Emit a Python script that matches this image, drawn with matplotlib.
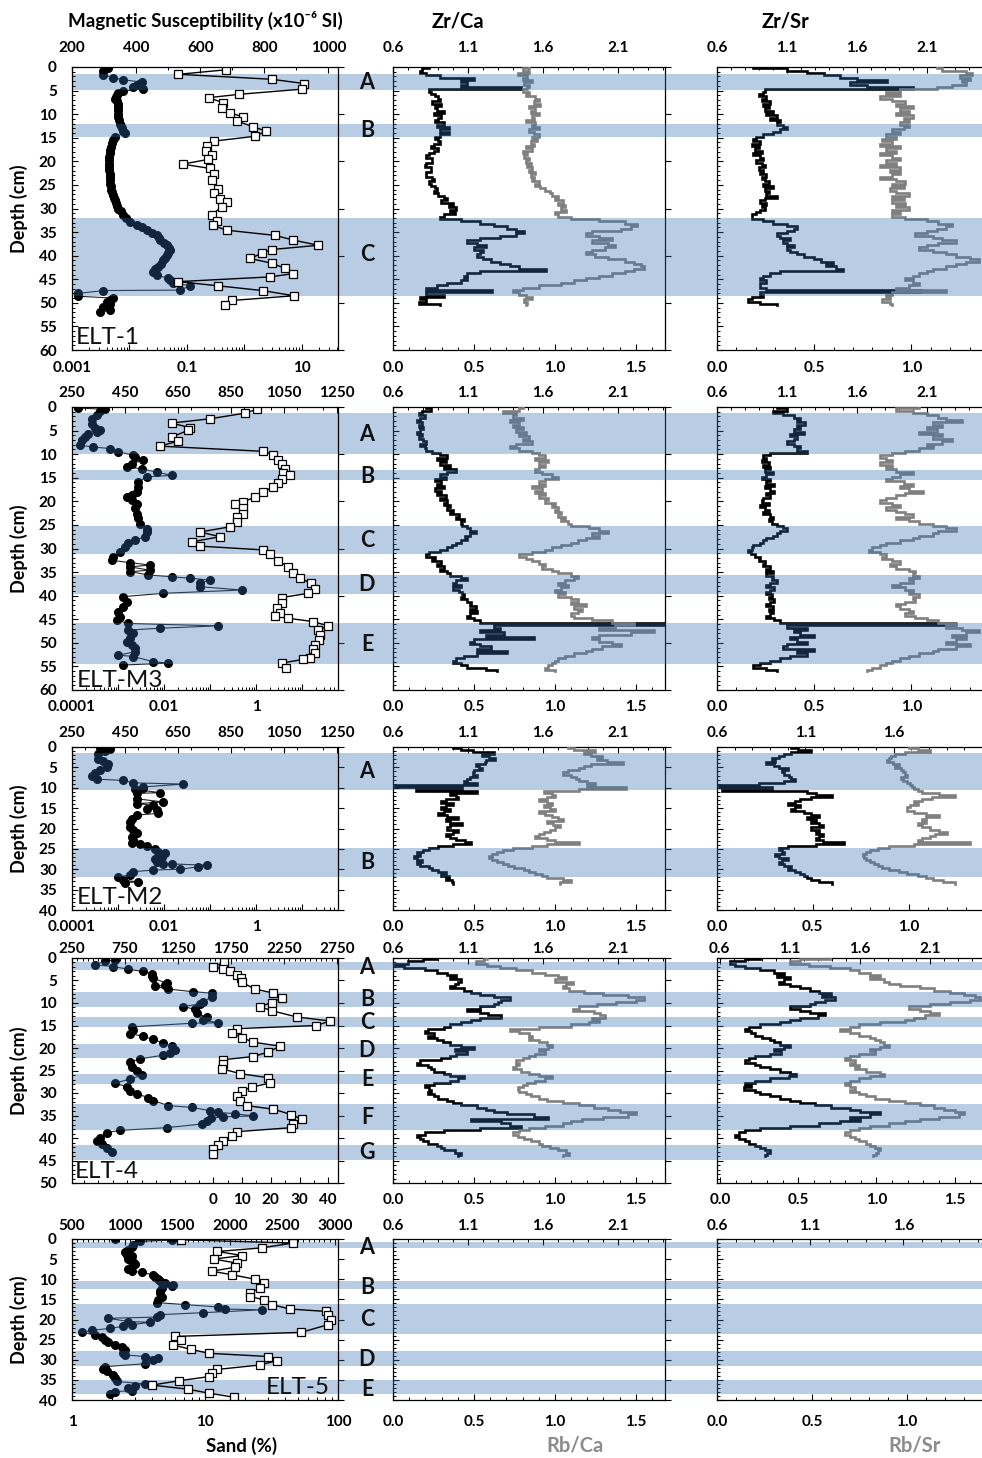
import matplotlib
matplotlib.use('Agg')
import matplotlib.pyplot as plt
import matplotlib.transforms as mtransforms
from matplotlib.patches import Rectangle
from matplotlib.ticker import MultipleLocator, LogLocator, NullFormatter, NullLocator
import numpy as np

plt.rcParams['font.family'] = ['Lato', 'DejaVu Sans']
plt.rcParams['font.weight'] = 'bold'
plt.rcParams['axes.linewidth'] = 0.9
plt.rcParams['xtick.direction'] = 'in'
plt.rcParams['ytick.direction'] = 'in'

############################################
# Data
# magnetic susceptibility (filled circles) : depth (cm), x10-6 SI
elt1_ms_depth = [0.2, 0.4, 0.8, 1.6, 2.3, 2.7, 3.2, 3.6, 3.9, 4.2, 4.6, 5.1, 5.5, 6.0, 6.4, 6.7, 7.2, 7.8, 8.5, 9.2,
                 9.9, 10.6, 11.3, 12.0, 12.5, 13.0, 13.5, 14.0, 14.8, 15.5, 16.2, 17.0, 17.6, 18.3, 19.0, 19.8,
                 20.5, 21.2, 21.9, 22.6, 23.3, 24.0, 24.7, 25.3, 26.0, 26.5, 27.1, 27.8, 28.2, 28.8, 29.4, 30.0,
                 30.6, 31.4, 32.1, 32.8, 33.5, 34.0, 34.6, 35.1, 35.6, 36.2, 36.7, 37.3, 37.8, 38.3, 38.8, 39.4,
                 39.9, 40.5, 41.0, 41.7, 42.3, 42.9, 43.4, 44.1, 44.8, 45.2, 45.7, 46.4, 47.3, 47.4, 48.0, 48.6,
                 49.0, 49.5, 49.8, 50.2, 50.8, 51.5, 51.9]
elt1_ms = [313, 303, 298, 298, 329, 360, 417, 410, 402, 391, 423, 360, 345, 340, 336, 334, 340, 345, 345, 343,
           345, 345, 348, 350, 352, 355, 360, 365, 334, 328, 324, 321, 320, 319, 317, 315,
           314, 315, 317, 319, 318, 319, 319, 321, 322, 324, 327, 331, 334, 338, 341, 345,
           352, 360, 370, 381, 402, 418, 433, 450, 464, 470, 475, 487, 495, 502, 506, 500,
           495, 490, 485, 477, 469, 460, 454, 464, 500, 505, 516, 568, 537, 298, 220, 220,
           329, 318, 308, 319, 298, 319, 288]
elt1_sand_depth = [0.6, 1.55, 2.6, 3.5, 4.7, 5.8, 6.5, 7.6, 8.6, 9.7, 10.6, 11.4, 12.7, 13.6, 14.7, 15.7, 16.8,
                   17.8, 18.7, 19.6, 20.6, 21.5, 22.7, 24.0, 25.8, 26.8, 27.9, 28.6, 29.6, 31.4, 32.6, 33.6,
                   34.6, 35.7, 36.7, 37.8, 38.7, 39.5, 40.6, 41.6, 42.7, 43.8, 44.5, 45.5, 46.4, 47.4, 48.5,
                   49.5, 50.5]
elt1_sand = [0.47, 0.071, 2.97, 10.8, 9.9, 0.79, 0.24, 0.43, 0.40, 0.56, 0.95, 0.73, 1.43, 2.4, 1.5, 0.30, 0.22,
             0.21, 0.27, 0.23, 0.084, 0.25, 0.29, 0.27, 0.35, 0.29, 0.37, 0.49, 0.40, 0.27, 0.33, 0.28,
             0.49, 3.4, 7.1, 19.2, 2.97, 2.0, 1.25, 2.97, 5.1, 7.1, 2.8, 0.071, 0.35, 2.07, 7.3,
             0.60, 0.46]

elt_m3_ms_depth = [0.2, 0.5, 0.8, 1.6, 2.5, 3.5, 4.4, 4.8, 5.3, 5.8, 6.4, 7.1, 8.1, 8.5, 8.8, 9.5, 10.2, 10.7,
                   11.3, 12.0, 12.7, 13.1, 13.8, 14.5, 14.8, 15.9, 16.9, 18.0, 18.7, 19.1, 19.8, 20.5, 21.5,
                   22.6, 23.6, 24.7, 25.8, 26.5, 27.5, 28.2, 28.9, 29.6, 30.7, 31.8, 32.5, 33.0, 33.5, 33.9,
                   34.6, 34.9, 35.6, 36.0, 36.3, 36.7, 37.4, 38.1, 38.8, 39.5, 40.2, 41.3, 42.3, 43.4, 44.5,
                   45.2, 45.9, 46.4, 46.9, 47.3, 48.0, 49.0, 49.8, 50.5, 51.2, 51.9, 52.6, 52.9, 54.0, 54.3, 54.7]
elt_m3_ms = [274, 375, 356, 343, 324, 324, 337, 356, 343, 312, 299, 287, 280, 331, 394, 425, 482, 488,
             519, 475, 456, 513, 570, 626, 532, 500, 500, 494, 475, 456, 475, 494, 488,
             494, 500, 507, 532, 532, 526, 488, 463, 450, 431, 406, 400, 469, 545, 469,
             545, 469, 538, 626, 696, 771, 733, 733, 891, 595, 444, 456, 444, 425, 431,
             419, 463, 803, 582, 463, 482, 469, 456, 475, 488, 488, 425, 482, 557, 614, 444]
elt_m3_sand_depth = [0.5, 1.3, 2.5, 3.4, 4.4, 4.9, 6.4, 7.2, 8.3, 9.4, 10.2, 11.3, 12.1, 13.1, 14.0, 14.5, 15.2,
                     16.1, 16.9, 18.0, 19.1, 20.1, 20.5, 21.5, 22.6, 23.4, 24.3, 25.4, 26.5, 27.5, 28.6, 29.5,
                     30.3, 31.1, 32.6, 33.9, 35.3, 36.3, 37.4, 38.5, 39.5, 40.4, 41.6, 42.7, 43.6, 44.3, 44.8,
                     45.5, 46.4, 47.3, 48.3, 49.4, 50.5, 51.4, 52.2, 53.3, 53.5, 54.3, 55.4]
elt_m3_sand = [1.03, 0.58, 0.10, 0.0147, 0.037, 0.034, 0.0147, 0.0205, 0.0082, 1.44, 2.38, 3.06, 3.6, 4.3, 3.9,
               5.5, 3.6, 3.06, 2.38, 1.44, 0.95, 0.53, 0.35, 0.53, 0.53, 0.38, 0.38, 0.27, 0.061, 0.165, 0.04,
               0.061, 1.44, 2.0, 3.06, 5.0, 6.5, 9.1, 16, 19.2, 13.7, 3.6, 3.6, 2.8, 3.3, 2.6, 5.0,
               17.6, 37, 22.6, 25, 24, 19.2, 17.6, 19.2, 14.9, 10.7, 3.6, 4.6]

elt_m2_ms_depth = [0.2, 0.4, 1.0, 1.8, 2.9, 3.4, 4.1, 4.9, 5.7, 6.5, 7.2, 7.9, 8.2, 8.8, 9.1, 9.8, 10.0, 10.4,
                   11.2, 11.4, 12.7, 13.5, 13.9, 14.3, 15.1, 15.5, 16.3, 16.7, 17.6, 18.4, 19.6, 20.4, 21.2,
                   22.0, 22.9, 23.5, 23.8, 24.3, 25.1, 25.7, 26.1, 26.9, 27.6, 28.2, 28.6, 28.7, 29.0, 29.4,
                   30.0, 30.2, 30.6, 31.3, 32.0, 32.7, 33.1, 33.3]
elt_m2_ms = [356, 394, 375, 349, 349, 368, 387, 381, 356, 337, 324, 343, 444, 482, 670, 519, 519, 488,
             582, 494, 494, 595, 494, 557, 532, 570, 576, 494, 475, 469, 469, 482, 494,
             475, 482, 475, 507, 532, 563, 576, 601, 589, 563, 570, 595, 626, 759, 727,
             658, 557, 482, 469, 425, 444, 500, 450]

elt4_ms_depth = [0.5, 0.7, 1.5, 1.9, 2.5, 3.0, 3.5, 4.1, 4.5, 5.6, 6.0, 6.3, 6.9, 7.5, 7.8, 8.6, 9.7, 10.2,
                 10.8, 11.4, 12.3, 13.1, 13.8, 14.4, 14.5, 15.3, 16.0, 16.8, 17.4, 18.1, 18.9, 19.6, 20.4,
                 21.1, 21.6, 22.4, 23.1, 24.3, 25.0, 26.1, 26.9, 27.8, 28.6, 29.5, 30.2, 31.0, 31.7, 32.8,
                 33.2, 33.9, 34.3, 34.6, 35.1, 35.3, 35.6, 36.2, 36.9, 37.7, 38.3, 38.8, 39.9, 40.7, 41.4,
                 42.2, 43.1]
elt4_ms = [656, 561, 467, 640, 781, 923, 1002, 1002, 1017, 1143, 1127, 1033, 1159, 1395, 1568, 1568, 1489, 1458,
           1300, 1410, 1426, 1521, 1489, 1631, 1379, 813, 829, 797, 923, 1017, 1112, 1190, 1222,
           1175, 1112, 892, 797, 813, 860, 907, 797, 656, 766, 797, 860, 970, 1017, 1159,
           1379, 1549, 1628, 1788, 1961, 1675, 1565, 1521, 1474, 1143, 703, 577, 514, 483, 530,
           577, 624]
elt4_sand_depth = [0.97, 1.9, 2.5, 3.0, 3.7, 4.5, 5.4, 6.9, 7.8, 8.9, 9.9, 10.8, 11.7, 13.1, 14.0, 15.0, 15.7,
                   16.6, 17.7, 18.7, 19.6, 20.9, 21.9, 22.6, 23.6, 24.6, 25.7, 26.6, 27.8, 28.7, 29.6, 30.6,
                   31.7, 32.8, 33.6, 34.8, 35.8, 36.8, 37.7, 38.6, 39.5, 40.7, 41.6, 42.5, 43.5]
elt4_sand = [3.7, 0, 3.5, 5.8, 8.1, 9.5, 9.9, 14.5, 20.9, 23.8, 20.3, 16.2, 20.3, 29, 40.6, 35.9, 8.1,
             6.4, 9.9, 13.9, 23.2, 19.1, 13.9, 3.5, 3.5, 2.9, 9.3, 19.1, 19.7, 13.3, 9.9, 8.1,
             9.3, 11.6, 20.9, 27.2, 30.7, 27.8, 27.2, 8.1, 6.4, 3.5, 1.7, 0, 0]

elt5_ms_depth = [0.0, 0.3, 0.6, 1.4, 2.0, 2.7, 3.3, 3.9, 4.3, 5.0, 5.6, 6.1, 6.8, 7.5, 8.0, 8.3, 8.9, 9.5, 10.0,
                 10.5, 11.0, 11.4, 11.8, 12.2, 12.8, 13.4, 14.3, 15.1, 15.8, 16.3, 16.9, 17.4, 17.6, 18.3,
                 18.8, 19.4, 19.7, 20.5, 20.7, 21.3, 21.7, 22.2, 22.7, 23.2, 23.8, 24.4, 25.1, 25.7, 26.3,
                 26.9, 27.6, 28.2, 28.8, 29.2, 29.6, 30.0, 31.0, 31.7, 32.4, 32.9, 33.8, 34.6, 35.4, 36.0,
                 36.5, 37.1, 37.7, 37.9, 38.5]
elt5_ms = [909, 1448, 1147, 1083, 1067, 1036, 1004, 1020, 1067, 1036, 1083, 1099, 1067, 1036, 1067, 1163, 1273,
           1289, 1321, 1337, 1384, 1464, 1448, 1353, 1337, 1337, 1353, 1321, 1305, 1575, 1892, 1955, 2304, 1749,
           1337, 1305, 846, 1036, 1242, 1067, 988, 861, 687, 592, 719, 782, 814, 846, 909,
           972, 1004, 988, 1004, 1194, 1321, 1274, 1194, 814, 798, 830, 893, 909, 925, 1194,
           1099, 1036, 1067, 909, 861]
elt5_sand_depth = [0.2, 1.0, 2.2, 3.1, 4.1, 5.0, 6.0, 7.0, 8.0, 8.9, 10.0, 11.0, 12.2, 13.3, 14.3, 15.1, 16.3,
                   17.4, 18.0, 18.8, 20.1, 21.3, 23.2, 24.2, 25.2, 26.3, 27.4, 28.4, 29.2, 30.2, 31.3, 32.4,
                   33.4, 34.2, 35.2, 36.3, 37.3, 38.3, 39.3]
elt5_sand = [6.6, 46, 26.8, 12.4, 19, 11.7, 17.4, 16.9, 11.3, 16, 23.9, 28, 26, 21.9, 21.9, 27.6, 31.8,
             43.6, 81.8, 84.2, 88.2, 84, 52.6, 6.0, 6.6, 5.7, 7.8, 10.7, 30, 34.7, 26, 12.4,
             11.3, 10.7, 6.4, 4.0, 7.4, 10.7, 16.5]

# XRF ratios, one value every 0.5 cm from the core top
XRF_STEP = 0.5
elt1_zrca = [0.84, 0.79, 0.78, 0.82, 0.91, 1.14, 1.05, 1.09, 1.05, 1.45,
             0.84, 0.85, 0.88, 0.90, 0.91, 0.86, 0.92, 0.88, 0.89, 0.94,
             0.87, 0.92, 0.90, 0.88, 0.94, 0.89, 0.97, 0.91, 0.97, 0.91,
             0.88, 0.90, 0.91, 0.87, 0.85, 0.90, 0.87, 0.84, 0.82, 0.86,
             0.86, 0.82, 0.81, 0.85, 0.85, 0.82, 0.82, 0.86, 0.87, 0.84,
             0.85, 0.88, 0.89, 0.87, 0.90, 0.94, 0.96, 0.92, 1.00, 0.97,
             1.02, 0.98, 1.01, 0.94, 0.91, 1.05, 1.18, 1.27, 1.36, 1.42,
             1.47, 1.42, 1.31, 1.18, 1.09, 1.16, 1.22, 1.14, 1.20, 1.18,
             1.16, 1.20, 1.25, 1.31, 1.38, 1.44, 1.62, 1.18, 1.09, 1.07,
             1.09, 1.05, 0.96, 0.89, 0.82, 1.26, 0.82, 0.94, 0.78, 0.82,
             0.77, 0.91]
elt1_rbca = [0.84, 0.80, 0.84, 0.77, 0.83, 0.80, 0.86, 0.81, 0.84, 0.83,
             0.80, 0.84, 0.82, 0.88, 0.90, 0.87, 0.91, 0.84, 0.88, 0.85,
             0.90, 0.86, 0.87, 0.82, 0.88, 0.86, 0.90, 0.84, 0.87, 0.90,
             0.86, 0.89, 0.85, 0.87, 0.82, 0.86, 0.80, 0.83, 0.81, 0.84,
             0.82, 0.85, 0.83, 0.86, 0.84, 0.88, 0.85, 0.87, 0.86, 0.90,
             0.88, 0.91, 0.94, 0.97, 0.98, 1.02, 1.00, 1.05, 1.02, 1.06,
             1.04, 1.07, 1.00, 1.02, 1.10, 1.27, 1.43, 1.51, 1.47, 1.41,
             1.23, 1.19, 1.27, 1.35, 1.23, 1.33, 1.37, 1.31, 1.23, 1.19,
             1.25, 1.33, 1.43, 1.49, 1.53, 1.55, 1.49, 1.43, 1.35, 1.27,
             1.19, 1.12, 1.04, 0.90, 0.80, 0.74, 0.78, 0.82, 0.86, 0.81,
             0.83, 0.82]
elt1_zrsr = [0.86, 1.10, 1.24, 1.36, 1.48, 1.60, 1.81, 1.55, 1.67, 2.00,
             0.94, 0.93, 0.90, 0.95, 0.92, 0.98, 0.93, 0.97, 0.94, 1.00,
             0.95, 1.03, 0.98, 1.05, 1.03, 1.07, 1.10, 1.05, 1.00, 0.93,
             0.88, 0.86, 0.91, 0.85, 0.90, 0.87, 0.92, 0.86, 0.91, 0.93,
             0.88, 0.92, 0.94, 0.90, 0.93, 0.91, 0.95, 0.92, 0.94, 0.97,
             0.93, 1.00, 0.94, 0.97, 0.95, 1.03, 0.94, 0.91, 0.95, 0.92,
             0.94, 0.91, 0.88, 0.85, 0.85, 0.93, 1.00, 1.10, 1.17, 1.15,
             1.10, 1.03, 1.05, 1.12, 1.07, 1.10, 1.15, 1.10, 1.12, 1.17,
             1.22, 1.29, 1.34, 1.43, 1.38, 1.45, 1.50, 1.05, 0.98, 0.93,
             0.91, 0.95, 0.91, 0.91, 0.95, 2.05, 0.91, 0.93, 0.85, 0.82,
             0.91, 1.03]
elt1_rbsr = [1.13, 1.16, 1.28, 1.31, 1.25, 1.30, 1.26, 1.28, 1.21, 1.13,
             0.94, 0.87, 0.94, 0.84, 0.90, 0.97, 0.92, 1.01, 0.94, 0.99,
             0.92, 1.01, 0.96, 0.99, 0.94, 0.99, 0.96, 0.90, 0.94, 0.87,
             0.92, 0.85, 0.90, 0.84, 0.94, 0.87, 0.92, 0.84, 0.90, 0.94,
             0.87, 0.92, 0.84, 0.94, 0.89, 0.94, 0.90, 0.84, 0.92, 0.97,
             0.90, 0.96, 0.89, 0.92, 0.99, 0.90, 0.96, 0.90, 0.97, 0.92,
             0.99, 0.90, 0.94, 0.90, 0.97, 1.08, 1.14, 1.21, 1.18, 1.13,
             1.08, 1.02, 1.11, 1.16, 1.23, 1.14, 1.08, 1.04, 1.11, 1.18,
             1.23, 1.30, 1.35, 1.28, 1.23, 1.18, 1.11, 1.08, 1.04, 1.01,
             0.97, 1.01, 1.04, 0.99, 0.92, 1.18, 0.90, 0.87, 0.89, 0.85,
             0.89, 0.90]

elt_m3_zrca = [0.82, 0.85, 0.79, 0.77, 0.81, 0.78, 0.76, 0.79, 0.77, 0.80,
               0.78, 0.76, 0.79, 0.77, 0.80, 0.82, 0.78, 0.81, 0.82, 0.86,
               0.91, 0.96, 0.89, 0.95, 0.91, 0.98, 0.94, 1.02, 0.96, 0.91,
               0.95, 0.88, 0.92, 0.89, 0.94, 0.88, 0.92, 0.89, 0.95, 0.91,
               0.96, 0.94, 0.98, 0.96, 1.00, 0.98, 1.04, 1.02, 1.07, 1.05,
               1.06, 1.09, 1.11, 1.15, 1.11, 1.08, 1.09, 1.05, 1.02, 0.99,
               0.96, 0.91, 0.84, 0.82, 0.88, 0.86, 0.92, 0.89, 0.94, 0.91,
               0.96, 0.98, 1.05, 1.09, 1.02, 1.00, 1.05, 1.00, 1.04, 1.06,
               1.07, 1.05, 1.09, 1.12, 1.11, 1.15, 1.11, 1.16, 1.11, 1.09,
               1.14, 1.18, 2.41, 1.27, 1.31, 1.18, 1.34, 1.22, 1.54, 1.14,
               1.11, 1.18, 1.25, 1.16, 1.36, 1.16, 1.07, 1.02, 1.00, 1.05,
               1.09, 1.22, 1.29]
elt_m3_rbca = [0.80, 0.78, 0.68, 0.76, 0.74, 0.80, 0.72, 0.78, 0.74, 0.80,
               0.76, 0.82, 0.78, 0.84, 0.80, 0.86, 0.76, 0.72, 0.78, 0.86,
               0.90, 0.94, 0.88, 0.96, 0.90, 0.94, 0.90, 0.88, 0.92, 0.98,
               1.02, 0.94, 0.90, 0.94, 0.86, 0.92, 0.88, 0.94, 0.90, 0.96,
               0.94, 1.00, 0.98, 1.02, 1.00, 1.04, 1.02, 1.06, 1.04, 1.08,
               1.10, 1.21, 1.27, 1.33, 1.23, 1.27, 1.19, 1.14, 1.10, 1.04,
               0.98, 0.94, 0.86, 0.78, 0.82, 0.86, 0.90, 0.94, 0.92, 0.98,
               1.02, 1.10, 1.14, 1.12, 1.06, 1.02, 1.08, 1.04, 1.00, 1.06,
               1.02, 1.10, 1.14, 1.10, 1.19, 1.12, 1.17, 1.14, 1.10, 1.12,
               1.23, 1.35, 1.49, 1.37, 1.27, 1.61, 1.47, 1.27, 1.23, 1.27,
               1.35, 1.41, 1.29, 1.23, 1.19, 1.12, 1.06, 1.02, 1.00, 0.98,
               0.96, 0.94, 1.00]
elt_m3_zrsr = [1.03, 1.10, 1.00, 1.07, 1.15, 1.19, 1.17, 1.23, 1.17, 1.19,
               1.15, 1.22, 1.12, 1.17, 1.15, 1.10, 1.15, 1.19, 1.17, 1.24,
               0.98, 0.93, 0.95, 0.92, 0.97, 0.93, 0.98, 0.94, 1.00, 0.95,
               0.92, 0.98, 0.95, 1.01, 0.94, 0.98, 1.01, 0.95, 0.98, 0.93,
               0.92, 0.97, 0.91, 0.94, 0.97, 0.93, 0.98, 1.00, 0.97, 0.99,
               1.03, 1.07, 1.10, 1.05, 1.03, 1.00, 0.95, 0.93, 0.91, 0.86,
               0.85, 0.82, 0.84, 0.87, 0.91, 0.90, 0.94, 0.93, 0.98, 0.95,
               1.00, 0.95, 1.00, 0.99, 1.03, 0.98, 0.95, 1.01, 0.98, 0.95,
               0.99, 0.97, 1.01, 0.98, 0.95, 1.00, 0.97, 1.00, 0.98, 0.95,
               1.01, 1.05, 2.30, 1.10, 1.24, 1.15, 1.19, 1.29, 1.12, 1.17,
               1.24, 1.10, 1.07, 1.29, 1.17, 1.24, 1.12, 1.05, 0.98, 0.91,
               0.86, 0.95, 1.03]
elt_m3_rbsr = [1.04, 0.92, 1.01, 1.08, 1.14, 1.18, 1.26, 1.11, 1.16, 1.08,
               1.13, 1.04, 1.16, 1.11, 1.21, 1.16, 1.08, 1.11, 1.04, 0.97,
               0.90, 0.84, 0.87, 0.90, 0.84, 0.90, 0.87, 0.92, 1.01, 0.94,
               0.90, 0.87, 0.96, 1.01, 0.94, 0.99, 1.06, 0.97, 0.92, 0.87,
               0.84, 0.90, 0.94, 0.87, 0.92, 0.97, 1.01, 0.92, 0.99, 1.04,
               1.11, 1.18, 1.23, 1.14, 1.11, 1.04, 1.01, 0.94, 0.87, 0.84,
               0.80, 0.78, 0.84, 0.87, 0.85, 0.90, 0.94, 0.89, 0.92, 0.99,
               1.02, 1.01, 1.04, 0.99, 1.01, 0.94, 0.90, 0.97, 1.01, 0.99,
               1.04, 1.01, 1.02, 0.97, 0.92, 0.94, 0.99, 1.01, 0.97, 1.02,
               1.08, 1.14, 1.23, 1.18, 1.26, 1.35, 1.28, 1.21, 1.28, 1.23,
               1.18, 1.30, 1.23, 1.14, 1.11, 1.04, 0.99, 0.94, 0.90, 0.87,
               0.84, 0.80, 0.77]

elt_m2_zrca = [1.00, 1.05, 1.13, 1.27, 1.19, 1.24, 1.28, 1.22, 1.21, 1.15,
               1.17, 1.19, 1.14, 1.13, 1.16, 1.11, 1.09, 1.07, 1.16, 0.61,
               1.06, 0.75, 1.16, 0.98, 1.02, 1.03, 0.95, 0.92, 1.00, 0.95,
               0.92, 0.98, 0.94, 0.90, 0.96, 1.03, 0.95, 0.98, 1.06, 0.98,
               0.96, 1.03, 1.00, 0.95, 0.98, 1.02, 1.08, 1.12, 1.00, 0.90,
               0.84, 0.80, 0.76, 0.78, 0.74, 0.76, 0.79, 0.76, 0.78, 0.84,
               0.86, 0.90, 0.95, 0.92, 0.97, 0.95, 0.99, 1.00]
elt_m2_rbca = [1.08, 1.12, 1.25, 1.18, 1.22, 1.29, 1.26, 1.32, 1.42, 1.22,
               1.18, 1.15, 1.08, 1.05, 1.10, 1.13, 1.15, 1.20, 1.25, 1.20,
               1.44, 1.15, 0.93, 0.98, 1.00, 0.95, 0.90, 0.95, 0.98, 0.93,
               0.97, 1.00, 0.90, 0.94, 0.98, 1.02, 1.05, 0.95, 0.99, 1.03,
               1.00, 0.97, 0.93, 0.90, 0.88, 0.95, 1.00, 1.15, 0.95, 0.86,
               0.74, 0.68, 0.64, 0.61, 0.59, 0.61, 0.64, 0.68, 0.71, 0.75,
               0.81, 0.84, 0.88, 0.92, 0.95, 1.05, 1.10, 1.03]
elt_m2_zrsr = [1.02, 1.06, 1.13, 1.02, 0.98, 0.95, 0.91, 0.93, 0.88, 0.92,
               0.95, 1.00, 0.97, 0.98, 1.01, 1.02, 1.04, 0.98, 0.84, 0.61,
               0.91, 0.63, 1.11, 1.16, 1.25, 1.13, 1.07, 1.04, 1.00, 1.07,
               1.04, 1.02, 1.09, 1.13, 1.18, 1.11, 1.16, 1.13, 1.18, 1.20,
               1.13, 1.18, 1.16, 1.20, 1.18, 1.16, 1.20, 1.32, 1.16, 1.00,
               0.95, 0.97, 0.98, 0.93, 0.95, 1.00, 0.97, 0.95, 0.98, 1.02,
               1.00, 1.04, 1.07, 1.09, 1.11, 1.13, 1.18, 1.25]
elt_m2_rbsr = [1.00, 1.05, 1.11, 0.98, 0.93, 0.91, 0.90, 0.89, 0.92, 0.95,
               0.93, 0.96, 0.97, 0.98, 0.99, 0.96, 0.97, 0.99, 1.01, 1.02,
               1.03, 1.05, 1.07, 1.16, 1.24, 1.12, 1.07, 1.03, 1.05, 1.01,
               0.99, 0.99, 1.03, 1.09, 1.16, 1.09, 1.07, 1.09, 1.05, 1.07,
               1.11, 1.16, 1.20, 1.14, 1.11, 1.07, 1.05, 1.32, 1.03, 0.90,
               0.84, 0.80, 0.78, 0.76, 0.77, 0.78, 0.80, 0.82, 0.84, 0.86,
               0.90, 0.95, 0.99, 1.05, 1.09, 1.13, 1.18, 1.24]

elt4_zrca = [0.89, 0.80, 0.70, 0.61, 0.67, 0.81, 0.89, 0.96, 1.02, 0.98,
             1.05, 1.03, 1.01, 0.98, 1.07, 1.12, 1.18, 1.27, 1.38, 1.32,
             1.30, 1.27, 1.18, 1.09, 1.18, 1.23, 1.32, 1.18, 1.12, 1.05,
             0.98, 0.94, 0.83, 0.81, 0.87, 0.83, 0.89, 0.93, 0.98, 1.05,
             1.14, 1.01, 1.09, 1.02, 0.98, 0.92, 0.78, 0.76, 0.83, 0.85,
             0.87, 0.94, 0.98, 1.07, 1.03, 0.98, 0.87, 0.81, 0.84, 0.85,
             0.83, 0.87, 0.90, 0.96, 1.00, 1.05, 1.16, 1.22, 1.27, 1.36,
             1.54, 1.63, 1.12, 1.32, 1.38, 1.45, 1.18, 0.94, 0.81, 0.76,
             0.78, 0.80, 0.83, 0.89, 0.92, 0.94, 1.01, 1.05, 1.03]
elt4_rbca = [0.58, 0.56, 0.51, 0.58, 0.66, 0.76, 0.86, 0.94, 1.02, 1.07,
             1.00, 1.11, 1.07, 1.05, 1.09, 1.18, 1.30, 1.45, 1.55, 1.50,
             1.38, 1.26, 1.15, 1.11, 1.24, 1.28, 1.31, 1.23, 1.27, 1.21,
             1.10, 0.90, 0.72, 0.78, 0.84, 0.86, 0.84, 0.90, 0.95, 0.98,
             0.96, 0.90, 0.94, 0.88, 0.84, 0.80, 0.76, 0.78, 0.76, 0.74,
             0.79, 0.84, 0.90, 0.98, 0.94, 0.88, 0.83, 0.80, 0.77, 0.78,
             0.82, 0.85, 0.90, 0.95, 1.05, 1.15, 1.24, 1.33, 1.40, 1.50,
             1.45, 1.30, 1.17, 1.10, 1.05, 0.94, 0.84, 0.78, 0.74, 0.77,
             0.81, 0.85, 0.90, 0.92, 0.97, 1.02, 1.07, 1.09, 1.05]
elt4_zrsr = [0.89, 0.78, 0.67, 0.71, 0.78, 0.89, 0.99, 1.06, 1.01, 1.10,
             1.06, 1.02, 1.10, 1.17, 1.24, 1.31, 1.39, 1.33, 1.42, 1.35,
             1.28, 1.24, 1.10, 1.17, 1.24, 1.35, 1.30, 1.17, 1.10, 1.03,
             0.89, 0.81, 0.78, 0.82, 0.85, 0.90, 0.96, 0.99, 1.03, 1.10,
             1.06, 0.99, 1.04, 0.96, 0.85, 0.81, 0.78, 0.85, 0.89, 0.96,
             1.03, 1.10, 1.14, 1.09, 0.96, 0.85, 0.78, 0.82, 0.77, 0.85,
             0.89, 0.96, 1.03, 1.10, 1.17, 1.28, 1.39, 1.53, 1.60, 1.74,
             1.67, 1.53, 1.60, 1.46, 1.31, 1.10, 0.89, 0.78, 0.74, 0.71,
             0.74, 0.78, 0.81, 0.85, 0.89, 0.92, 0.96, 0.94, 0.92]
elt4_rbsr = [0.70, 0.51, 0.45, 0.57, 0.70, 0.83, 0.89, 0.96, 1.02, 0.96,
             1.05, 1.08, 1.15, 1.28, 1.37, 1.47, 1.56, 1.63, 1.66, 1.60,
             1.47, 1.34, 1.21, 1.28, 1.34, 1.40, 1.31, 1.24, 1.18, 1.02,
             0.89, 0.83, 0.77, 0.83, 0.89, 0.96, 0.99, 1.02, 1.05, 1.08,
             1.02, 0.96, 0.99, 0.89, 0.83, 0.80, 0.86, 0.83, 0.89, 0.86,
             0.93, 1.02, 1.05, 0.96, 0.89, 0.83, 0.80, 0.83, 0.86, 0.83,
             0.89, 0.93, 0.99, 1.08, 1.18, 1.28, 1.37, 1.43, 1.50, 1.56,
             1.53, 1.40, 1.28, 1.18, 1.08, 0.96, 0.89, 0.83, 0.80, 0.83,
             0.86, 0.89, 0.93, 0.96, 0.99, 1.02, 1.01, 1.00, 0.98]

# shaded intervals (depth top, depth bottom) and their letters
elt1_bands = [(1.4, 4.9), (12.1, 14.8), (32.1, 48.6)]
elt_m3_bands = [(1.3, 9.9), (13.4, 15.4), (25.3, 31.1), (35.6, 39.7), (45.7, 54.5)]
elt_m2_bands = [(1.5, 10.6), (24.8, 31.8)]
elt4_bands = [(1.0, 2.6), (7.5, 11.0), (13.1, 15.3), (19.0, 22.2), (25.7, 28.1), (32.5, 38.3), (41.6, 45.0)]
elt5_bands = [(0.8, 2.2), (10.4, 12.4), (16.1, 23.6), (27.8, 31.5), (35.0, 38.5)]
elt1_letters = [('A', 3.2), ('B', 13.4), ('C', 39.8)]
elt_m3_letters = [('A', 5.9), ('B', 14.8), ('C', 28.2), ('D', 37.7), ('E', 50.4)]
elt_m2_letters = [('A', 6.1), ('B', 28.4)]
elt4_letters = [('A', 2.2), ('B', 9.3), ('C', 14.4), ('D', 20.6), ('E', 27.1), ('F', 35.4), ('G', 43.3)]
elt5_letters = [('A', 2.0), ('B', 12.0), ('C', 20.0), ('D', 30.0), ('E', 37.3)]

core_names = ['ELT-1', 'ELT-M3', 'ELT-M2', 'ELT-4', 'ELT-5']

ms_ticks = [[200, 400, 600, 800, 1000],
            [250, 450, 650, 850, 1050, 1250],
            [250, 450, 650, 850, 1050, 1250],
            [250, 750, 1250, 1750, 2250, 2750],
            [500, 1000, 1500, 2000, 2500, 3000]]
sand_ticks = [[0.001, 0.01, 0.1, 1, 10],
              [0.0001, 0.001, 0.01, 0.1, 1, 10],
              [0.0001, 0.001, 0.01, 0.1, 1, 10],
              [0, 10, 20, 30, 40],
              [1, 10, 100]]
sand_ticklabels = [['0.001', '', '0.1', '', '10'],
                   ['0.0001', '', '0.01', '', '1', ''],
                   ['0.0001', '', '0.01', '', '1', ''],
                   ['0', '10', '20', '30', '40'],
                   ['1', '10', '100']]
zr_ticks = [0.6, 1.1, 1.6, 2.1]
rb_ticks = [0.0, 0.5, 1.0, 1.5]

############################################
# Layout (pixels of the 982 x 1458 picture)
W, H = 982, 1458
LEFT = (72, 338)
MID = (393, 665)
RIGHT = (717, 989)
BAND = (52 / 255, 109 / 255, 178 / 255)
GRAY = '#808080'
TICK_FS = 11

rows = [
    dict(top=67, bot=350, dmax=60, rstep=10, top_pad=9, bot_pad=8,
         ms_lim=(200, 1030), ms_minor=100, sd_scale='log', sd_lim=(0.001, 42.3),
         zr_r=(0.6, 2.54), rb_r=(0, 1.40), zr_r_ticks=zr_ticks, rb_r_ticks=rb_ticks[:3],
         name_xy=(76, 337, 'left')),
    dict(top=407, bot=690, dmax=60, rstep=10, top_pad=5, bot_pad=7,
         ms_lim=(250, 1255), ms_minor=100, sd_scale='log', sd_lim=(0.0001, 60.6),
         zr_r=(0.6, 2.54), rb_r=(0, 1.40), zr_r_ticks=zr_ticks, rb_r_ticks=rb_ticks[:3],
         name_xy=(77, 681, 'left')),
    dict(top=747, bot=910, dmax=40, rstep=5, top_pad=5, bot_pad=7,
         ms_lim=(250, 1255), ms_minor=100, sd_scale='log', sd_lim=(0.0001, 60.6),
         zr_r=(0.6, 2.14), rb_r=(0, 1.42), zr_r_ticks=zr_ticks[:3], rb_r_ticks=rb_ticks[:3],
         name_xy=(77, 897, 'left')),
    dict(top=958, bot=1183, dmax=50, rstep=5, top_pad=1.5, bot_pad=7,
         ms_lim=(250, 2760), ms_minor=50, sd_scale='linear', sd_lim=(-49.2, 43.4),
         zr_r=(0.58, 2.52), rb_r=(-0.02, 1.72), zr_r_ticks=zr_ticks, rb_r_ticks=rb_ticks,
         name_xy=(75, 1172, 'left')),
    dict(top=1239, bot=1400, dmax=40, rstep=5, top_pad=4, bot_pad=11,
         ms_lim=(500, 3030), ms_minor=50, sd_scale='log', sd_lim=(1, 100),
         zr_r=(0.6, 2.06), rb_r=(0, 1.43), zr_r_ticks=zr_ticks[:3], rb_r_ticks=rb_ticks[:3],
         name_xy=(330, 1387, 'right')),
]


def Box(x0, y0, x1, y1):
    return [x0 / W, 1 - y1 / H, (x1 - x0) / W, (y1 - y0) / H]


def StepProfile(vals, step):
    # each sample is held over its own depth slice
    vals = np.asarray(vals, dtype=float)
    d = step * np.arange(len(vals))
    edges = np.concatenate([[d[0]], 0.5 * (d[:-1] + d[1:]), [d[-1]]])
    return np.repeat(vals, 2), np.repeat(edges, 2)[1:-1]


def LeftPanel(fig, i, ms_d, ms_v, sd_d, sd_v):
    cfg = rows[i]
    pos = Box(LEFT[0], cfg['top'], LEFT[1], cfg['bot'])
    # magnetic susceptibility (top axis), drawn beneath the shading
    ax = fig.add_axes(pos, zorder=1)
    ax.plot(ms_v, ms_d, color='#222222', lw=0.8, marker='o', ms=5.5, mfc='black', mec='black')
    ax.set_xlim(*cfg['ms_lim'])
    ax.set_ylim(cfg['dmax'], 0)
    ax.xaxis.tick_top()
    ax.set_xticks(ms_ticks[i], [str(t) for t in ms_ticks[i]])
    ax.xaxis.set_minor_locator(MultipleLocator(cfg['ms_minor']))
    ax.tick_params(axis='x', which='major', length=4, width=0.8, pad=cfg['top_pad'], labelsize=TICK_FS)
    ax.tick_params(axis='x', which='minor', length=2.5, width=0.7)
    ax.yaxis.tick_right()
    ax.yaxis.set_major_locator(MultipleLocator(cfg['rstep']))
    ax.yaxis.set_minor_locator(NullLocator())
    ax.tick_params(axis='y', direction='out', length=4, width=0.8, labelright=False)
    for s in ax.spines.values():
        s.set_visible(False)

    # sand (bottom axis), drawn above the shading
    ax2 = fig.add_axes(pos, zorder=6)
    ax2.patch.set_alpha(0)
    if sd_d is not None:
        ax2.plot(sd_v, sd_d, color='black', lw=1.0, marker='s', ms=5.2, mfc='white', mec='black', mew=0.9)
    ax2.set_xscale(cfg['sd_scale'])
    ax2.set_xlim(*cfg['sd_lim'])
    ax2.set_ylim(cfg['dmax'], 0)
    ax2.set_xticks(sand_ticks[i], sand_ticklabels[i])
    if cfg['sd_scale'] == 'log':
        ax2.xaxis.set_minor_locator(LogLocator(base=10, subs=np.arange(2, 10), numticks=20))
        ax2.xaxis.set_minor_formatter(NullFormatter())
    else:
        ax2.xaxis.set_minor_locator(MultipleLocator(5))
    ax2.set_yticks(np.arange(0, cfg['dmax'] + 1, 5))
    ax2.yaxis.set_minor_locator(MultipleLocator(1))
    ax2.tick_params(axis='x', which='major', length=4, width=0.8, pad=cfg['bot_pad'], labelsize=TICK_FS)
    ax2.tick_params(axis='x', which='minor', length=2.5, width=0.7)
    ax2.tick_params(axis='y', which='major', length=4, width=0.8, pad=11, labelsize=TICK_FS)
    ax2.tick_params(axis='y', which='minor', length=2.5, width=0.7)
    return ax2


def XrfPanel(fig, i, xr, zr_vals, rb_vals, zr_lim, rb_lim, zr_tk, rb_tk):
    cfg = rows[i]
    pos = Box(xr[0], cfg['top'], xr[1], cfg['bot'])
    axz = fig.add_axes(pos, zorder=1)
    if zr_vals is not None:
        x, y = StepProfile(zr_vals, XRF_STEP)
        axz.plot(x, y, color='black', lw=1.9, solid_joinstyle='miter')
    axz.set_xlim(*zr_lim)
    axz.set_ylim(cfg['dmax'], 0)
    axz.xaxis.tick_top()
    axz.set_xticks(zr_tk, ['%.1f' % t for t in zr_tk])
    axz.xaxis.set_minor_locator(MultipleLocator(0.1))
    axz.tick_params(axis='x', which='major', length=4, width=0.8, pad=cfg['top_pad'], labelsize=TICK_FS)
    axz.tick_params(axis='x', which='minor', length=2.5, width=0.7)
    axz.yaxis.tick_right()
    axz.yaxis.set_major_locator(MultipleLocator(cfg['rstep']))
    axz.yaxis.set_minor_locator(NullLocator())
    axz.tick_params(axis='y', direction='out', length=4, width=0.8, labelright=False)

    axr = fig.add_axes(pos, zorder=2)
    axr.patch.set_alpha(0)
    if rb_vals is not None:
        x, y = StepProfile(rb_vals, XRF_STEP)
        axr.plot(x, y, color=GRAY, lw=1.9, solid_joinstyle='miter')
    axr.set_xlim(*rb_lim)
    axr.set_ylim(cfg['dmax'], 0)
    axr.set_xticks(rb_tk, ['%.1f' % t for t in rb_tk])
    axr.xaxis.set_minor_locator(MultipleLocator(0.1))
    axr.yaxis.set_major_locator(MultipleLocator(5))
    axr.yaxis.set_minor_locator(MultipleLocator(1))
    axr.tick_params(axis='x', which='major', length=4, width=0.8, pad=cfg['bot_pad'], labelsize=TICK_FS)
    axr.tick_params(axis='x', which='minor', length=2.5, width=0.7)
    axr.tick_params(axis='y', which='major', length=4, width=0.8, labelleft=False)
    axr.tick_params(axis='y', which='minor', length=2.5, width=0.7)
    for s in axr.spines.values():
        s.set_visible(False)


def Shade(fig, ax, bands, letters):
    tr = mtransforms.blended_transform_factory(fig.transFigure, ax.transData)
    for d0, d1 in bands:
        rect = Rectangle((LEFT[0] / W, d0), 1.02 - LEFT[0] / W, d1 - d0, transform=tr,
                         facecolor=BAND, alpha=0.35, edgecolor='none', zorder=3)
        fig.add_artist(rect)
    for lab, d in letters:
        fig.text(367 / W, d, lab, transform=tr, ha='center', va='center',
                 fontsize=15.5, fontweight='bold', color='#111111', zorder=7)


############################################
def MakeFigure():
    fig = plt.figure(figsize=(W / 100, H / 100), dpi=100)

    left_data = [(elt1_ms_depth, elt1_ms, elt1_sand_depth, elt1_sand),
                 (elt_m3_ms_depth, elt_m3_ms, elt_m3_sand_depth, elt_m3_sand),
                 (elt_m2_ms_depth, elt_m2_ms, None, None),
                 (elt4_ms_depth, elt4_ms, elt4_sand_depth, elt4_sand),
                 (elt5_ms_depth, elt5_ms, elt5_sand_depth, elt5_sand)]
    xrf_data = [(elt1_zrca, elt1_rbca, elt1_zrsr, elt1_rbsr),
                (elt_m3_zrca, elt_m3_rbca, elt_m3_zrsr, elt_m3_rbsr),
                (elt_m2_zrca, elt_m2_rbca, elt_m2_zrsr, elt_m2_rbsr),
                (elt4_zrca, elt4_rbca, elt4_zrsr, elt4_rbsr),
                (None, None, None, None)]
    bands = [elt1_bands, elt_m3_bands, elt_m2_bands, elt4_bands, elt5_bands]
    letters = [elt1_letters, elt_m3_letters, elt_m2_letters, elt4_letters, elt5_letters]

    for i, cfg in enumerate(rows):
        ms_d, ms_v, sd_d, sd_v = left_data[i]
        ax = LeftPanel(fig, i, ms_d, ms_v, sd_d, sd_v)
        zrca, rbca, zrsr, rbsr = xrf_data[i]
        XrfPanel(fig, i, MID, zrca, rbca, (0.6, 2.413), (0, 1.68), zr_ticks, rb_ticks)
        XrfPanel(fig, i, RIGHT, zrsr, rbsr, cfg['zr_r'], cfg['rb_r'], cfg['zr_r_ticks'], cfg['rb_r_ticks'])
        Shade(fig, ax, bands[i], letters[i])

        fig.text(19 / W, 1 - 0.5 * (cfg['top'] + cfg['bot']) / H, 'Depth (cm)', rotation=90,
                 ha='center', va='center', fontsize=13, fontweight='bold')
        nx, ny, ha = cfg['name_xy']
        fig.text(nx / W, 1 - ny / H, core_names[i], ha=ha, va='center', fontsize=17.5,
                 fontweight='normal', color='#111111', zorder=7)

    fig.text(205 / W, 1 - 20 / H, 'Magnetic Susceptibility (x10\u207b\u2076 SI)', ha='center', va='center',
             fontsize=13.5, fontweight='bold')
    fig.text(458 / W, 1 - 21 / H, 'Zr/Ca', ha='center', va='center', fontsize=14.5, fontweight='bold')
    fig.text(785 / W, 1 - 21 / H, 'Zr/Sr', ha='center', va='center', fontsize=14.5, fontweight='bold')
    fig.text(242 / W, 1 - 1446 / H, 'Sand (%)', ha='center', va='center', fontsize=13.5, fontweight='bold')
    fig.text(575 / W, 1 - 1445 / H, 'Rb/Ca', ha='center', va='center', fontsize=14.5, fontweight='bold',
             color='#8c8c8c')
    fig.text(915 / W, 1 - 1445 / H, 'Rb/Sr', ha='center', va='center', fontsize=14.5, fontweight='bold',
             color='#8c8c8c')

    fig.savefig('out.png', dpi=100)


if __name__ == '__main__':
    MakeFigure()
